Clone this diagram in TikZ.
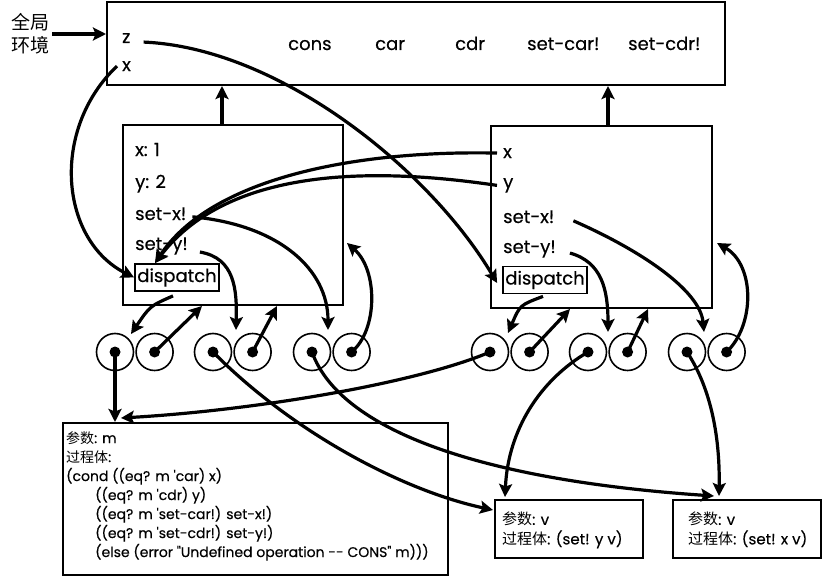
\documentclass[tikz,border=0pt]{standalone}
\usepackage{fontspec}
\setmainfont{Poppins}[Ligatures=TeXOff, FakeBold=0.4]
\newfontfamily\cjk{Noto Sans CJK SC}
\usetikzlibrary{arrows.meta,positioning}

\begin{document}
\begin{tikzpicture}[x=1pt, y=-1pt,
    frame/.style={draw, line width=2pt, inner sep=0pt},
    lbl/.style={anchor=base west, inner sep=0pt, font=\fontsize{18}{20}\selectfont},
    cell/.style={circle, draw, line width=1.6pt, minimum size=37pt, inner sep=0pt},
    link/.style={line width=3.2pt, -{Stealth[length=13pt, width=13pt, inset=2.5pt]}}]
    \useasboundingbox (0,0) rectangle (822,578);

    % Global environment
    \node[frame, minimum width=618pt, minimum height=83pt] (glob) at (416,43.5) {};
    \node[align=center, inner sep=2pt, font=\cjk\fontsize{19}{23}\selectfont] (genv) at (31,34) {全局\\环境};
    \node[lbl] (gz) at (122,43) {z};
    \node[lbl] (gx) at (122,71) {x};
    \node[lbl] (gcons) at (288,50) {cons};
    \node[lbl] (gcar) at (375,50) {car};
    \node[lbl] (gcdr) at (455,50) {cdr};
    \node[lbl] (gsetcar) at (527,50) {set-car!};
    \node[lbl] (gsetcdr) at (628,50) {set-cdr!};
    \draw[link] (genv.east) -- (genv.east -| glob.west);

    % Frame of x
    \node[frame, minimum width=220pt, minimum height=180pt] (e1) at (233,215) {};
    \node[lbl] (e1x) at (135,156) {x: 1};
    \node[lbl] (e1y) at (135,188) {y: 2};
    \node[lbl] (e1sx) at (135,220) {set-x!};
    \node[lbl] (e1sy) at (135,250) {set-y!};
    \node[frame, line width=1.8pt, minimum width=84pt, minimum height=27pt,
        font=\fontsize{18}{20}\selectfont] (d1) at (177,277.5) {dispatch};

    % Frame of z
    \node[frame, minimum width=221pt, minimum height=182pt] (e2) at (601.5,217) {};
    \node[lbl] (e2x) at (503,158) {x};
    \node[lbl] (e2y) at (503,188) {y};
    \node[lbl] (e2sx) at (503,223) {set-x!};
    \node[lbl] (e2sy) at (503,253) {set-y!};
    \node[frame, line width=1.8pt, minimum width=84pt, minimum height=27pt,
        font=\fontsize{18}{20}\selectfont] (d2) at (545,280) {dispatch};

    % Enclosing environment
    \coordinate (e1up) at ([xshift=-11pt]e1.north);
    \coordinate (e2up) at ([xshift=6.5pt]e2.north);
    \draw[link] (e1up) -- (e1up |- glob.south);
    \draw[link] (e2up) -- (e2up |- glob.south);

    % Procedure objects
    \foreach \n/\x in {1/115, 2/213, 3/312, 4/490, 5/588, 6/687} {
        \node[cell] (l\n) at (\x,352) {};
        \node[cell, right=1pt of l\n] (r\n) {};
        \fill (l\n) circle (5.5pt);
        \fill (r\n) circle (5.5pt);
    }

    % Procedure bodies
    \node[frame, minimum width=385pt, minimum height=152pt] (code) at (255.5,499) {};
    \node[anchor=north west, inner sep=0pt, align=left, font=\fontsize{14}{19}\selectfont]
        (body) at (66,431) {{\cjk 参数}: m\\
        {\cjk 过程体}:\\
        (cond ((eq? m 'car) x)\\
        \hspace*{29pt}((eq? m 'cdr) y)\\
        \hspace*{29pt}((eq? m 'set-car!) set-x!)\\
        \hspace*{29pt}((eq? m 'set-cdr!) set-y!)\\
        \hspace*{29pt}(else (error "Undefined operation -- CONS" m)))};
    \node[frame, minimum width=148pt, minimum height=58pt] (sety) at (569,529) {};
    \node[anchor=north west, inner sep=0pt, align=left, font=\fontsize{15}{19.5}\selectfont]
        (sybody) at (502,512) {{\cjk 参数}: v\\{\cjk 过程体}: (set! y v)};
    \node[frame, minimum width=148pt, minimum height=58pt] (setx) at (747,529) {};
    \node[anchor=north west, inner sep=0pt, align=left, font=\fontsize{15}{19.5}\selectfont]
        (sxbody) at (688,512) {{\cjk 参数}: v\\{\cjk 过程体}: (set! x v)};

    % Bindings
    \draw[link] ([shift={(13,4)}]gz.east) .. controls (280,48) and (430,170) .. ([shift={(-5,3)}]d2.west);
    \draw[link] ([xshift=-5pt]gx.west) .. controls (50,130) and (60,240) .. (d1.west);
    \draw[link] ([xshift=-6pt]e2x.west) .. controls (350,150) and (210,180) .. ([xshift=-22pt]d1.north);
    \draw[link] ([xshift=-6pt]e2y.west) .. controls (380,168) and (230,165) .. ([xshift=-22pt]d1.north);

    % Frame of x: procedures
    \draw[link] ([shift={(-4,4)}]d1.south) .. controls (150,306) .. ([shift={(16,-18)}]l1.center);
    \draw[link] (r1.center) -- ([xshift=-31pt]e1.south);
    \draw[link] ([shift={(12,6)}]e1sy.east) .. controls (235,258) and (237,290) .. ([shift={(23,-22)}]l2.center);
    \draw[link] (r2.center) -- ([xshift=44pt]e1.south);
    \draw[link] ([shift={(6,3)}]e1sx.east) .. controls (280,225) and (328,270) .. ([shift={(16,-22)}]l3.center);
    \draw[link] (r3.center) .. controls (378,330) and (378,270) .. ([shift={(3,28)}]e1.east);

    % Frame of z: procedures
    \draw[link] ([shift={(-2,2)}]d2.south) .. controls (520,305) .. ([shift={(18,-19)}]l4.center);
    \draw[link] (r4.center) -- ([xshift=-31.5pt]e2.south);
    \draw[link] ([shift={(14,4)}]e2sy.east) .. controls (602,262) and (608,290) .. ([shift={(20,-20)}]l5.center);
    \draw[link] (r5.center) -- ([xshift=46.5pt]e2.south);
    \draw[link] ([shift={(19,4)}]e2sx.east) .. controls (640,250) and (700,290) .. ([shift={(17,-20)}]l6.center);
    \draw[link] (r6.center) .. controls (755,325) and (755,265) .. ([shift={(4,26)}]e2.east);

    % Code pointers
    \draw[link] (l1.center) -- (l1.center |- code.north);
    \draw[link] (l4.center) .. controls (420,382) and (260,410) .. ([shift={(59,-4)}]code.north west);
    \draw[link] (l2.center) .. controls (290,430) and (400,490) .. ([shift={(-1,11)}]sety.north west);
    \draw[link] (l3.center) .. controls (340,430) and (480,480) .. ([shift={(42,-3)}]setx.north west);
    \draw[link] (l5.center) .. controls (540,380) and (508,430) .. ([shift={(11,-2)}]sety.north west);
    \draw[link] (l6.center) .. controls (712,390) and (720,440) .. ([shift={(47,-3)}]setx.north west);
\end{tikzpicture}
\end{document}
